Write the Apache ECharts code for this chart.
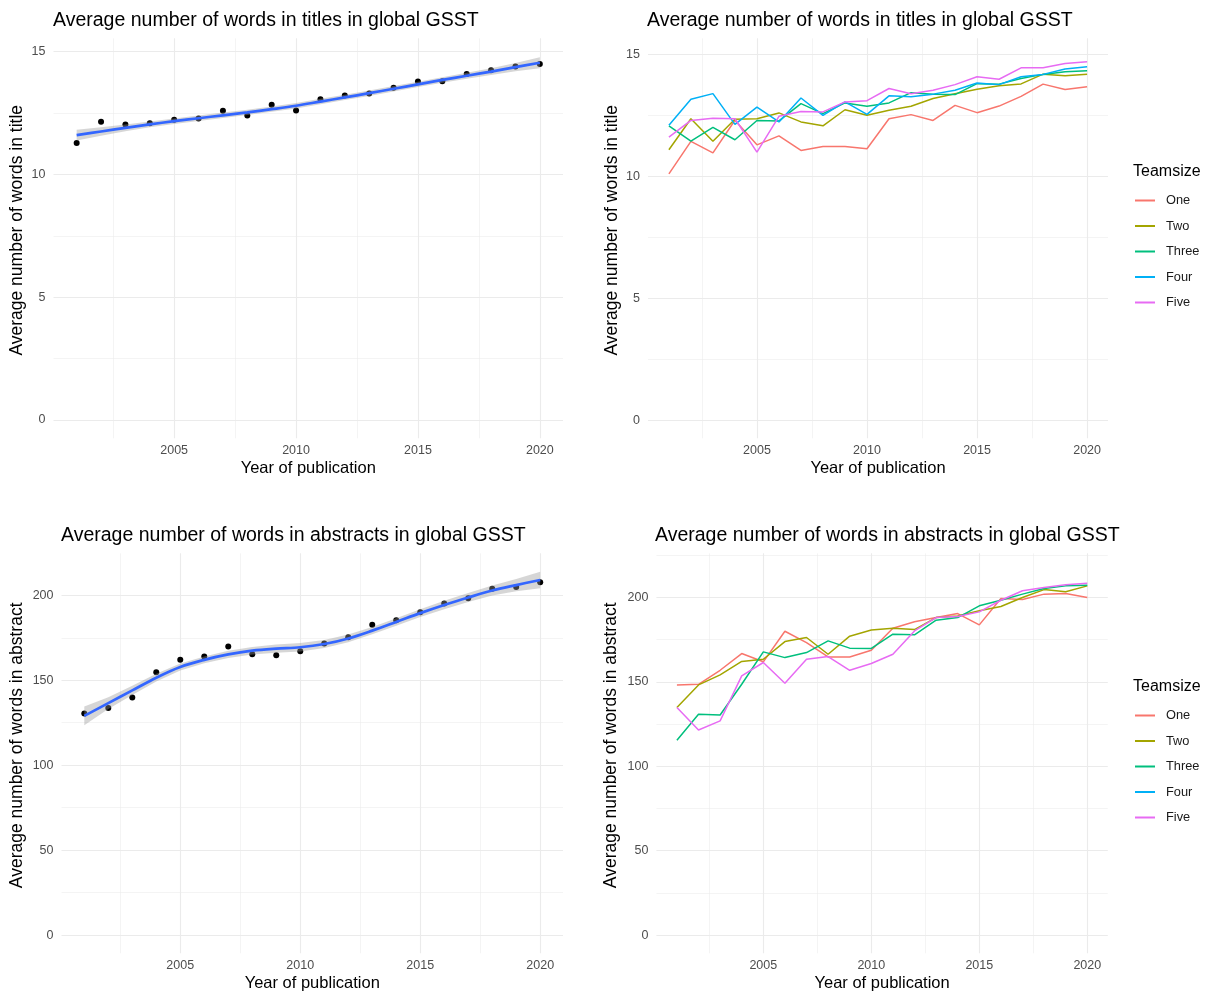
<!DOCTYPE html>
<html>
<head>
<meta charset="utf-8">
<script src="https://cdn.jsdelivr.net/npm/echarts@6/dist/echarts.min.js"></script>
<style>
  html, body { margin: 0; padding: 0; background: #fff; }
  #chart { width: 1211px; height: 994px; }
</style>
</head>
<body>
<div id="chart"></div>
<script>
// years of publication, shared by all four panels
const years = [2001, 2002, 2003, 2004, 2005, 2006, 2007, 2008, 2009, 2010,
  2011, 2012, 2013, 2014, 2015, 2016, 2017, 2018, 2019, 2020];

// top left: mean words in titles, loess fit and its band
const titleWords = [11.28, 12.15, 12.04, 12.09, 12.23, 12.28, 12.60, 12.40, 12.84, 12.61,
  13.06, 13.22, 13.30, 13.53, 13.79, 13.80, 14.09, 14.24, 14.40, 14.50];
const titleSmooth = [11.60, 11.75, 11.90, 12.04, 12.17, 12.29, 12.41, 12.53, 12.66, 12.80,
  12.97, 13.14, 13.31, 13.49, 13.67, 13.85, 14.02, 14.19, 14.37, 14.55];
const titleUpper = [11.82, 11.92, 12.04, 12.16, 12.28, 12.40, 12.52, 12.64, 12.77, 12.91,
  13.08, 13.25, 13.42, 13.60, 13.78, 13.96, 14.14, 14.33, 14.54, 14.77];
const titleLower = [11.38, 11.58, 11.76, 11.92, 12.06, 12.18, 12.30, 12.42, 12.55, 12.69,
  12.86, 13.03, 13.20, 13.38, 13.56, 13.74, 13.90, 14.05, 14.20, 14.33];

// top right: words in titles by team size
const titleOne = [10.10, 11.43, 10.96, 12.30, 11.29, 11.66, 11.06, 11.22, 11.22, 11.13,
  12.36, 12.53, 12.29, 12.91, 12.61, 12.88, 13.28, 13.78, 13.56, 13.67];
const titleTwo = [11.09, 12.36, 11.44, 12.34, 12.36, 12.60, 12.23, 12.07, 12.73, 12.50,
  12.71, 12.87, 13.19, 13.39, 13.57, 13.71, 13.79, 14.19, 14.12, 14.19];
const titleThree = [12.07, 11.44, 12.01, 11.50, 12.29, 12.27, 12.98, 12.57, 13.01, 12.87,
  13.01, 13.43, 13.37, 13.35, 13.80, 13.78, 14.01, 14.18, 14.29, 14.33];
const titleFour = [12.09, 13.16, 13.39, 12.13, 12.84, 12.23, 13.21, 12.50, 13.05, 12.54,
  13.30, 13.26, 13.37, 13.53, 13.83, 13.76, 14.08, 14.18, 14.40, 14.49];
const titleFive = [11.61, 12.29, 12.38, 12.36, 10.99, 12.46, 12.66, 12.64, 13.05, 13.10,
  13.60, 13.39, 13.53, 13.76, 14.08, 13.98, 14.45, 14.45, 14.63, 14.70];

// bottom left: mean words in abstracts, loess fit and its band
const abstractWords = [130.4, 133.7, 139.8, 154.7, 162.0, 163.9, 169.8, 165.3, 164.7, 167.1,
  171.6, 175.3, 182.7, 185.3, 190.0, 195.1, 198.2, 203.9, 204.9, 207.6];
const abstractSmooth = [129.0, 136.5, 144.0, 151.5, 157.8, 162.0, 165.2, 167.4, 168.6, 169.4,
  171.3, 174.6, 179.2, 184.3, 189.5, 194.3, 198.7, 202.8, 206.0, 209.0];
const abstractUpper = [134.5, 140.0, 146.7, 153.8, 159.9, 164.0, 167.3, 169.6, 171.0, 171.9,
  173.7, 176.9, 181.4, 186.5, 191.8, 196.8, 201.4, 205.8, 209.6, 213.8];
const abstractLower = [123.5, 133.0, 141.3, 149.2, 155.7, 160.0, 163.1, 165.2, 166.2, 166.9,
  168.9, 172.3, 177.0, 182.1, 187.2, 191.8, 196.0, 199.8, 202.4, 204.2];

// bottom right: words in abstracts by team size (no visible "Four" line)
const abstractOne = [148.2, 148.6, 156.9, 166.8, 161.9, 180.0, 173.3, 164.8, 164.8, 168.8,
  181.8, 185.6, 188.1, 190.5, 183.8, 199.4, 198.8, 202.0, 202.4, 200.0];
const abstractTwo = [134.8, 148.2, 154.2, 162.1, 163.4, 173.9, 176.3, 166.4, 177.1, 180.8,
  181.8, 181.0, 188.1, 189.1, 192.1, 194.7, 200.0, 204.7, 203.4, 206.9];
const abstractThree = [115.4, 130.8, 130.4, 148.6, 167.8, 164.4, 167.4, 174.3, 170.0, 169.8,
  178.3, 177.9, 186.6, 188.1, 195.1, 198.4, 202.0, 205.3, 206.9, 207.3];
const abstractFour = [];
const abstractFive = [134.8, 121.5, 126.9, 153.6, 161.5, 149.2, 163.4, 165.0, 156.9, 160.9,
  166.4, 180.2, 188.1, 188.7, 191.5, 198.4, 204.0, 205.9, 207.5, 208.5];

const teamNames = ['One', 'Two', 'Three', 'Four', 'Five'];
const teamColors = ['#F8766D', '#A3A500', '#00BF7D', '#00B0F6', '#E76BF3'];

const font = "'Liberation Sans', Arial, sans-serif";
const gridColor = '#EBEBEB';

const pairs = values => values.map((v, i) => [years[i], v]);

function xAxis(gridIndex) {
  return {
    type: 'value',
    gridIndex: gridIndex,
    min: 2000.05,
    max: 2020.95,
    splitNumber: 5,
    name: 'Year of publication',
    nameLocation: 'middle',
    nameGap: 22,
    nameTextStyle: { color: '#000', fontSize: 16.5, fontFamily: font },
    axisLine: { show: false },
    axisTick: { show: false },
    axisLabel: {
      color: '#4D4D4D', fontSize: 12.5, fontFamily: font, margin: 6,
      showMinLabel: true, showMaxLabel: true,
      formatter: v => (v % 5 === 0 ? String(v) : '')
    },
    splitLine: { show: true, showMinLine: false, showMaxLine: false, lineStyle: { color: gridColor, width: 1.1 } },
    minorTick: { show: false, splitNumber: 2 },
    minorSplitLine: { show: true, lineStyle: { color: gridColor, width: 0.55 } }
  };
}

function yAxis(gridIndex, name, min, max, splitNumber, step, nameGap) {
  return {
    type: 'value',
    gridIndex: gridIndex,
    min: min,
    max: max,
    splitNumber: splitNumber,
    name: name,
    nameLocation: 'middle',
    nameGap: nameGap,
    nameTextStyle: { color: '#000', fontSize: 17.5, fontFamily: font, padding: [0, 0, 0, 16] },
    axisLine: { show: false },
    axisTick: { show: false },
    axisLabel: {
      color: '#4D4D4D', fontSize: 12.5, fontFamily: font, margin: 8,
      showMinLabel: true, showMaxLabel: true,
      formatter: v => (v % step === 0 ? String(v) : '')
    },
    splitLine: { show: true, showMinLine: false, showMaxLine: false, lineStyle: { color: gridColor, width: 1.1 } },
    minorTick: { show: false, splitNumber: 2 },
    minorSplitLine: { show: true, lineStyle: { color: gridColor, width: 0.55 } }
  };
}

function fitSeries(axis, points, smooth, upper, lower) {
  return [
    {
      type: 'scatter', xAxisIndex: axis, yAxisIndex: axis, data: pairs(points),
      symbolSize: 6, itemStyle: { color: '#000', opacity: 1 }, silent: true, z: 2
    },
    {
      // confidence band, one polygon placed through the axis scales
      type: 'custom', xAxisIndex: axis, yAxisIndex: axis, silent: true, z: 3,
      data: years.map((y, i) => [y, lower[i], upper[i]]),
      encode: { x: 0, y: [1, 2] },
      renderItem: (params, api) => {
        if (params.dataIndex !== 0) return null;
        let top = upper.map((v, i) => api.coord([years[i], v]));
        let bottom = lower.map((v, i) => api.coord([years[i], v])).reverse();
        return {
          type: 'polygon',
          shape: { points: top.concat(bottom) },
          style: { fill: 'rgba(153,153,153,0.4)' }
        };
      }
    },
    {
      type: 'line', xAxisIndex: axis, yAxisIndex: axis, data: pairs(smooth),
      smooth: 0.35, symbol: 'none', lineStyle: { color: '#3366FF', width: 2.7 }, silent: true, z: 4
    }
  ];
}

function teamSeries(axis, groups) {
  return groups.map((values, i) => ({
    name: teamNames[i],
    type: 'line',
    xAxisIndex: axis,
    yAxisIndex: axis,
    data: pairs(values),
    symbol: 'none',
    itemStyle: { color: teamColors[i] },
    lineStyle: { color: teamColors[i], width: 1.5 },
    z: 2 + i
  }));
}

function legend(top) {
  return {
    data: teamNames,
    orient: 'vertical',
    left: 1135,
    top: top,
    padding: 0,
    icon: 'rect',
    itemWidth: 20,
    itemHeight: 2,
    itemGap: 12.5,
    selectedMode: false,
    textStyle: { color: '#1A1A1A', fontSize: 12.8, fontFamily: font, padding: [0, 0, 0, 6] }
  };
}

const titleStyle = { color: '#000', fontSize: 19.5, fontWeight: 'normal', fontFamily: font };
const legendTitleStyle = { color: '#000', fontSize: 16, fontWeight: 'normal', fontFamily: font };

let option = {
  backgroundColor: '#fff',
  animation: false,
  title: [
    { text: 'Average number of words in titles in global GSST', left: 53, top: 11, padding: 0, textStyle: titleStyle },
    { text: 'Average number of words in titles in global GSST', left: 647, top: 11, padding: 0, textStyle: titleStyle },
    { text: 'Average number of words in abstracts in global GSST', left: 61, top: 526, padding: 0, textStyle: titleStyle },
    { text: 'Average number of words in abstracts in global GSST', left: 655, top: 526, padding: 0, textStyle: titleStyle },
    { text: 'Teamsize', left: 1133, top: 164, padding: 0, textStyle: legendTitleStyle },
    { text: 'Teamsize', left: 1133, top: 679, padding: 0, textStyle: legendTitleStyle }
  ],
  legend: [legend(194), legend(709)],
  grid: [
    { left: 53.5, top: 38.3, width: 509.5, height: 400 },
    { left: 648, top: 38.3, width: 460, height: 400 },
    { left: 61.5, top: 553.3, width: 501.5, height: 400 },
    { left: 656.4, top: 553.3, width: 451.4, height: 400 }
  ],
  xAxis: [xAxis(0), xAxis(1), xAxis(2), xAxis(3)],
  yAxis: [
    yAxis(0, 'Average number of words in title', -0.745, 15.546, 3, 5, 27),
    yAxis(1, 'Average number of words in title', -0.746, 15.66, 3, 5, 27),
    yAxis(2, 'Average number of words in abstract', -10.7, 224.7, 5, 50, 35),
    yAxis(3, 'Average number of words in abstract', -10.8, 226.2, 5, 50, 36)
  ],
  series: [].concat(
    fitSeries(0, titleWords, titleSmooth, titleUpper, titleLower),
    teamSeries(1, [titleOne, titleTwo, titleThree, titleFour, titleFive]),
    fitSeries(2, abstractWords, abstractSmooth, abstractUpper, abstractLower),
    teamSeries(3, [abstractOne, abstractTwo, abstractThree, abstractFour, abstractFive])
  )
};

let gsstChart = echarts.init(document.getElementById('chart'));
gsstChart.setOption(option);
</script>
</body>
</html>
